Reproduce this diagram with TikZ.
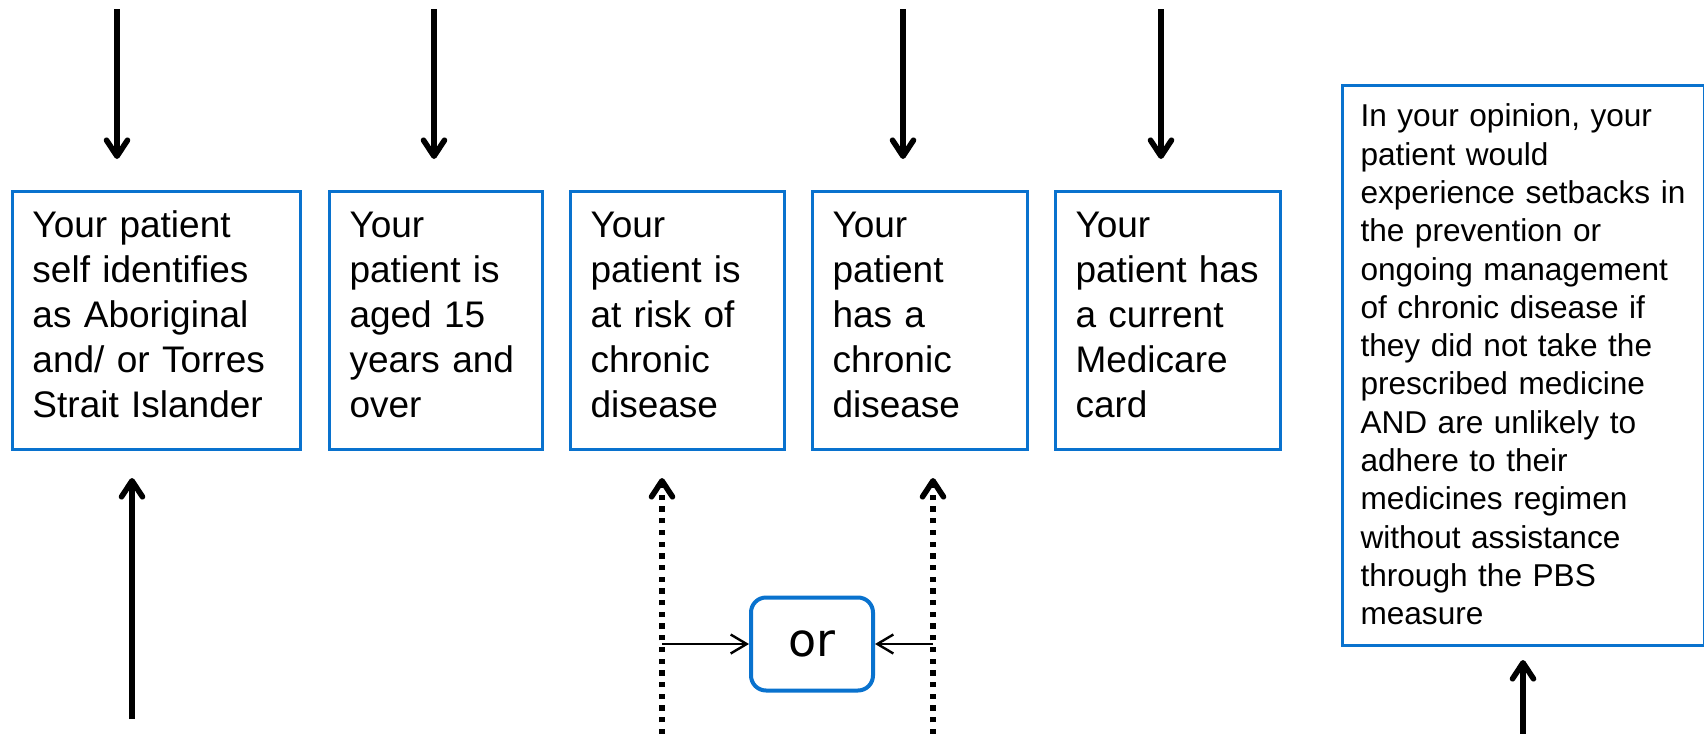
\documentclass[tikz,border=0pt]{standalone}
\usepackage{fontspec}
\setmainfont{Liberation Sans}
\newfontfamily\orfont{DejaVu Sans}
\usetikzlibrary{arrows.meta}
\definecolor{boxblue}{RGB}{9,114,206}

\tikzset{
  critbox/.style={rectangle, draw=boxblue, line width=1.5pt, anchor=north west, align=left,
    inner xsep=10pt, inner ysep=0pt, minimum height=129pt, text height=13.3pt, text depth=96.3pt,
    font=\fontsize{18.5}{22.5}\selectfont},
  bigarrow/.style={line width=2.8pt, -{Straight Barb[length=8pt,width=10.5pt,round]}},
  dotarrow/.style={bigarrow, dash pattern=on 2.65pt off 3.2pt},
  orarrow/.style={line width=1.2pt, -{Straight Barb[length=8pt,width=9.5pt]}}
}

\begin{document}
\begin{tikzpicture}[x=0.5pt, y=-0.5pt]
  \useasboundingbox (0,0) rectangle (1704,734);

  % criteria boxes
  \node (aborig) [critbox, minimum width=144pt, text width=124pt] at (11,190)
    {Your patient\\self identifies\\as Aboriginal\\and/ or Torres\\Strait Islander};
  \node (age) [critbox, minimum width=106.5pt, text width=86.5pt] at (328,190)
    {Your\\patient is\\aged 15\\years and\\over};
  \node (risk) [critbox, minimum width=107pt, text width=87pt] at (569,190)
    {Your\\patient is\\at risk of\\chronic\\disease};
  \node (chronic) [critbox, minimum width=107.5pt, text width=87.5pt] at (811,190)
    {Your\\patient\\has a\\chronic\\disease};
  \node (medicare) [critbox, minimum width=112.5pt, text width=92.5pt] at (1054,190)
    {Your\\patient has\\a current\\Medicare\\card};
  \node (opinion) [critbox, minimum width=181pt, text width=163pt, inner xsep=9pt,
    minimum height=280pt, text height=11.3pt, text depth=250pt,
    font=\fontsize{15.8}{19.15}\selectfont] at (1341,84)
    {In your opinion, your\\patient would\\experience setbacks in\\the prevention or\\ongoing management\\of chronic disease if\\they did not take the\\prescribed medicine\\AND are unlikely to\\adhere to their\\medicines regimen\\without assistance\\through the PBS\\measure};

  % the or box
  \node (orbox) [rectangle, rounded corners=7.5pt, draw=boxblue, line width=2pt,
    minimum width=61pt, minimum height=46.5pt, font=\orfont\fontsize{23}{27}\selectfont]
    at (812,644) {or};

  % arrow ends
  \coordinate (aborigtop) at (117,9);   \coordinate (aborigin) at (117,159);
  \coordinate (agetop) at (434,9);      \coordinate (agein) at (434,159);
  \coordinate (chronictop) at (903,9);  \coordinate (chronicin) at (903,159);
  \coordinate (medicaretop) at (1161,9); \coordinate (medicarein) at (1161,159);
  \coordinate (aborigfoot) at (132,719); \coordinate (aborigout) at (132,478);
  \coordinate (riskfoot) at (662,734);  \coordinate (riskout) at (662,478);
  \coordinate (chronicfoot) at (933,734); \coordinate (chronicout) at (933,478);
  \coordinate (opinionfoot) at (1523,734); \coordinate (opinionout) at (1523,660);

  \draw[bigarrow] (aborigtop) -- (aborigin);
  \draw[bigarrow] (agetop) -- (agein);
  \draw[bigarrow] (chronictop) -- (chronicin);
  \draw[bigarrow] (medicaretop) -- (medicarein);
  \draw[bigarrow] (aborigfoot) -- (aborigout);
  \draw[bigarrow] (opinionfoot) -- (opinionout);
  \draw[dotarrow] (riskfoot) -- (riskout);
  \draw[dotarrow] (chronicfoot) -- (chronicout);

  \draw[orarrow] (riskfoot |- orbox.west) -- (orbox.west);
  \draw[orarrow] (chronicfoot |- orbox.east) -- (orbox.east);
\end{tikzpicture}
\end{document}
